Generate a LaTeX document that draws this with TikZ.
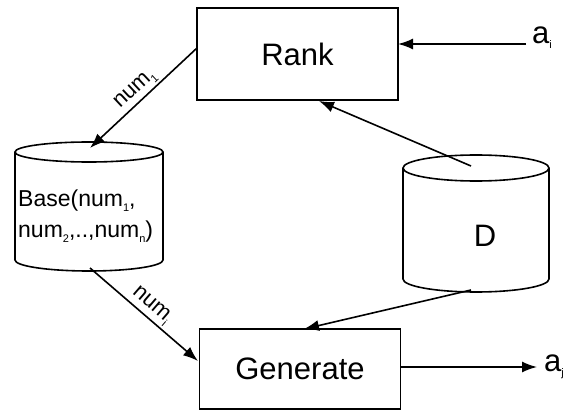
\documentclass[tikz,border=0pt]{standalone}
\usepackage{fontspec}
\setmainfont{Liberation Sans}
\usetikzlibrary{arrows.meta}
\newcommand{\sbs}[1]{\raisebox{-5pt}{\fontsize{11}{11}\selectfont #1}}
\begin{document}
\begin{tikzpicture}[x=1pt,y=-1pt,
  box/.style={draw, line width=1.8pt, minimum width=201pt, inner sep=0pt},
  arr/.style={line width=1.6pt, -{Latex[length=15pt,width=11pt]}},
  cyl/.style={line width=1.6pt},
  big/.style={font=\fontsize{31}{36}\selectfont},
  mid/.style={font=\fontsize{23}{31}\selectfont},
  lab/.style={font=\fontsize{22}{25}\selectfont, inner sep=1pt}
]
\useasboundingbox (0,0) rectangle (574,412);
% boxes
\node[box, big, minimum height=92pt] (rank) at (297.5,54) {Rank};
\node[box, big, minimum height=80pt] (gen) at (300,369) {Generate};
% Base cylinder
\draw[cyl] (89,152) ellipse [x radius=74pt, y radius=10pt];
\draw[cyl] (15,152) -- (15,260) arc[start angle=180, end angle=360, x radius=74pt, y radius=11pt] -- (163,152);
\node[mid, align=left, anchor=west, inner sep=0pt] (base) at (18,216) {Base(num\sbs{1},\\num\sbs{2},..,num\sbs{n})};
% D cylinder
\draw[cyl] (476,168) ellipse [x radius=73pt, y radius=13pt];
\draw[cyl] (403,168) -- (403,279) arc[start angle=180, end angle=360, x radius=73pt, y radius=13pt] -- (549,168);
\node[big] (d) at (485,236) {D};
% labels a_i, a_j
\node[big, anchor=west, inner sep=0pt] (ai) at (532,38) {a\sbs{i}};
\node[big, anchor=west, inner sep=0pt] (aj) at (544,367) {a\sbs{j}};
% connector end points
\coordinate (r1) at (197,48);
\coordinate (b1) at (90,148);
\coordinate (b2) at (90,268);
\coordinate (g1) at (198,361);
\coordinate (d1) at (471,166);
\coordinate (r2) at (319,101);
\coordinate (d2) at (471,290);
\coordinate (g2) at (304,329);
\coordinate (ai0) at (526,44);
\coordinate (r3) at (398,44);
\coordinate (g3) at (401,367);
\coordinate (aj0) at (537,367);
% connectors
\draw[arr] (r1) -- node[lab, sloped, above=1pt] {num\sbs{1}} (b1);
\draw[arr] (b2) -- node[lab, sloped, above=1pt] {num\sbs{i}} (g1);
\draw[arr] (d1) -- (r2);
\draw[arr] (d2) -- (g2);
\draw[arr] (ai0) -- (r3);
\draw[arr] (g3) -- (aj0);
\end{tikzpicture}
\end{document}
